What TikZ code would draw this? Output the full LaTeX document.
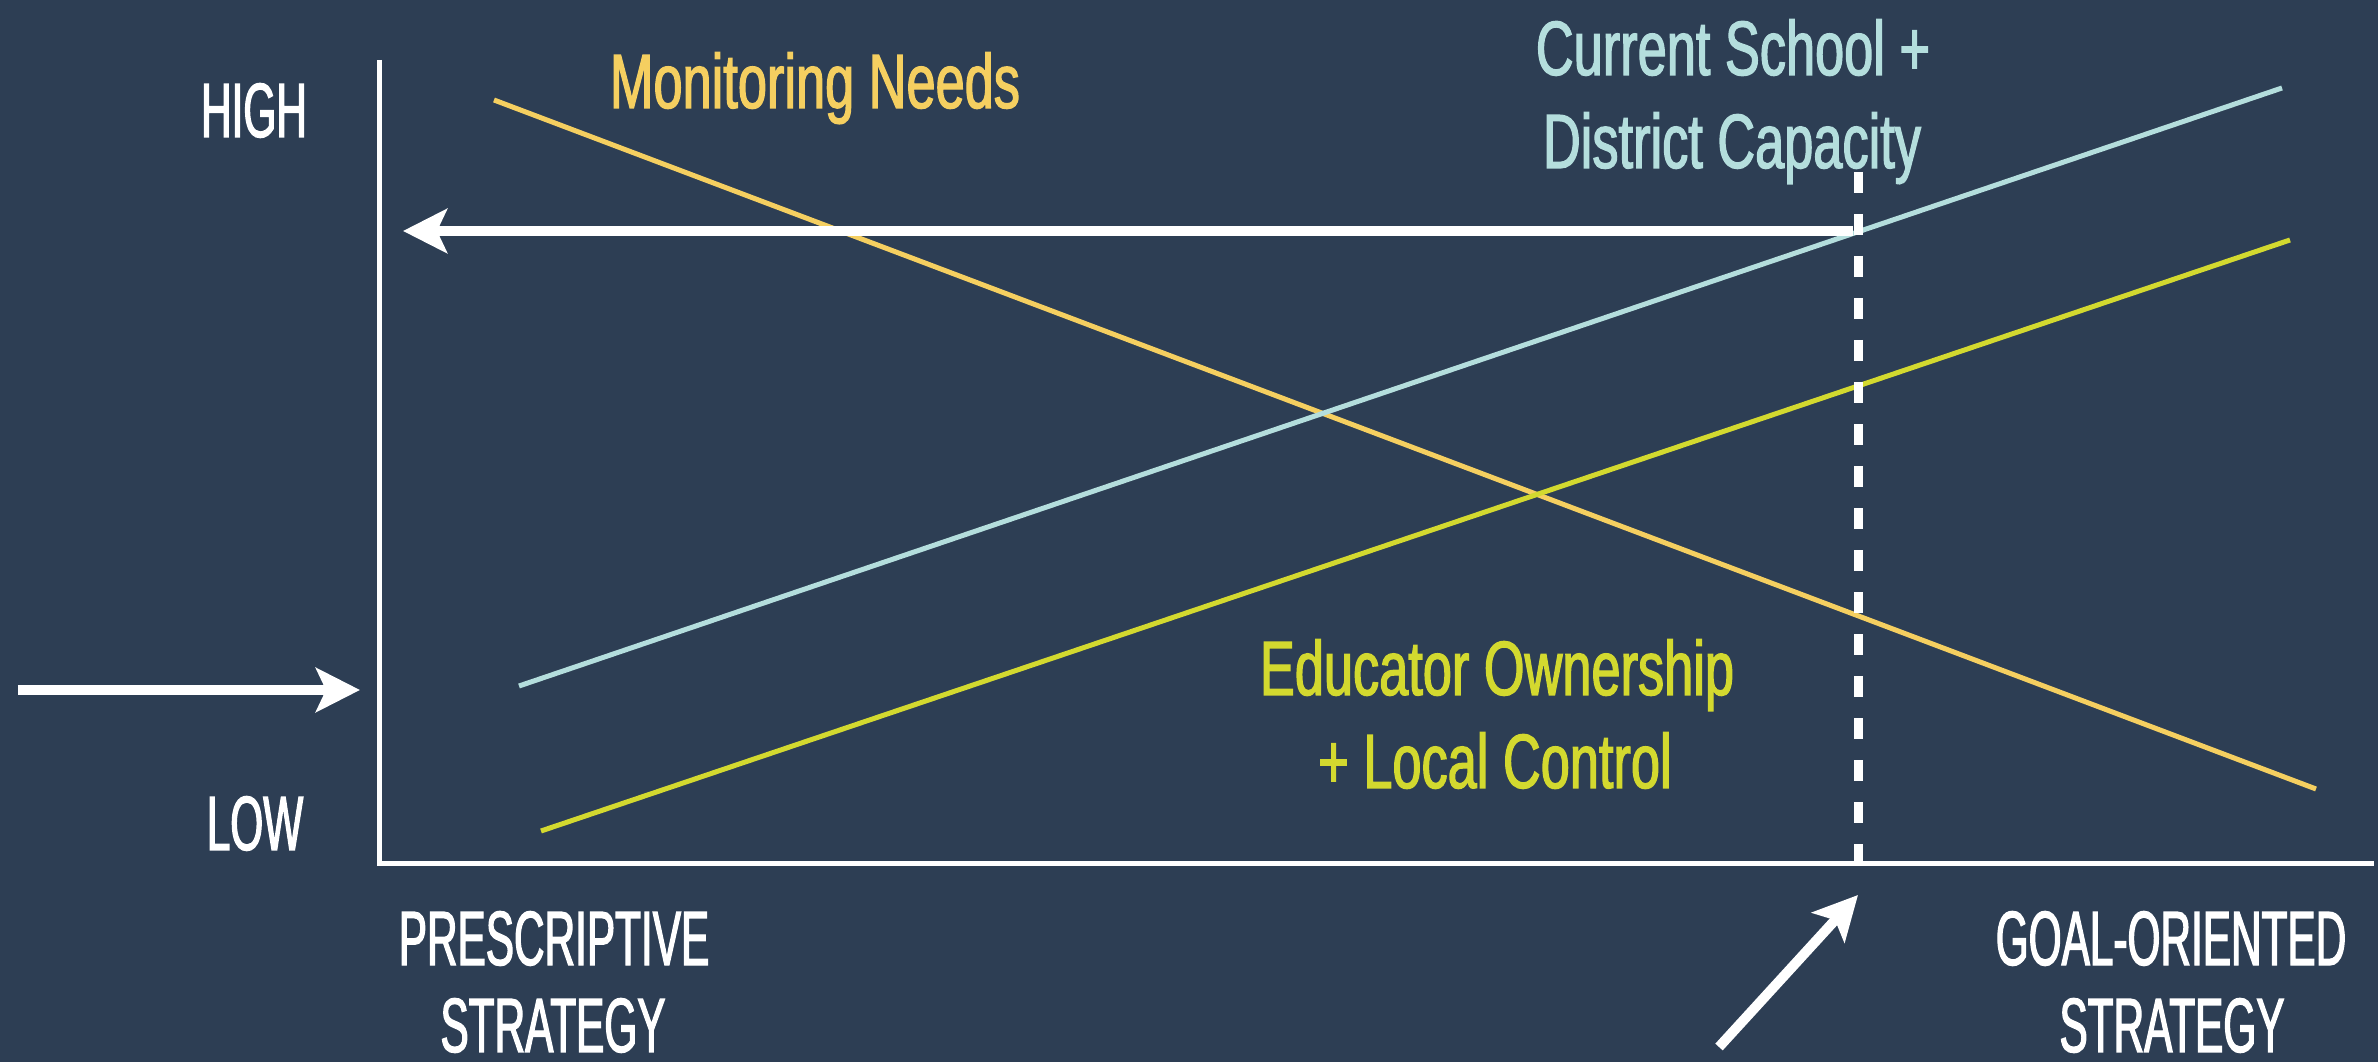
\documentclass[tikz,border=0pt]{standalone}
\usepackage{fontspec}
\setmainfont[FakeStretch=0.68, FakeBold=1.6]{Liberation Sans}
\newfontfamily\axisfont[FakeStretch=0.55, FakeBold=1.6]{Liberation Sans}
\usepackage{tikz}
\usetikzlibrary{arrows.meta,positioning}
\definecolor{slate}{HTML}{2D3E54}
\definecolor{monitor}{HTML}{F5CF60}
\definecolor{capacity}{HTML}{B4DEDD}
\definecolor{ownership}{HTML}{D3D92F}

\begin{document}
\begin{tikzpicture}[
font=\fontsize{21.9}{26}\selectfont,
axislabel/.style={font=\axisfont\fontsize{21.9}{26}\selectfont, text=white, anchor=base, inner sep=0pt, text depth=0pt},
linelabel/.style={anchor=base, inner sep=0pt},
trend/.style={line width=0.05cm},
bigarrow/.style={white, line width=0.1cm, -{Stealth[length=0.44cm, width=0.44cm, inset=0.1cm]}}
]
    % Background
    \fill[slate] (0,0) rectangle (23.78,10.62);
    \useasboundingbox (0,0) rectangle (23.78,10.62);

    % Draw axes
    \draw[white, line width=0.05cm] (3.79,10.02) coordinate (yaxis)
        |- (23.74,1.98) coordinate (xaxis);
    \coordinate (origin) at (3.79,1.98);

    \draw
    (4.94,9.62) coordinate (M1)
    (23.16,2.73) coordinate (M2)
    (5.19,3.76) coordinate (C1)
    (22.82,9.74) coordinate (C2)
    (5.41,2.31) coordinate (E1)
    (22.90,8.22) coordinate (E2)
    (18.58,8.90) coordinate (D1)
    (18.58,1.98) coordinate (D2)
    (18.53,8.31) coordinate (H1)
    (4.03,8.31) coordinate (H2)
    (0.18,3.72) coordinate (L1)
    (3.60,3.72) coordinate (L2)
    (17.19,0.15) coordinate (G1)
    (18.58,1.67) coordinate (G2);

    % Axis labels
    \node[axislabel] (high) at (2.54,9.25) {HIGH};
    \node[axislabel] (low) at (2.55,2.12) {LOW};
    \node[axislabel] (presc) at (5.54,0.97) {PRESCRIPTIVE};
    \node[axislabel] (presc2) at (5.53,0.10) {STRATEGY};
    \node[axislabel] (goal) at (21.71,0.97) {GOAL-ORIENTED};
    \node[axislabel] (goal2) at (21.72,0.10) {STRATEGY};

    % Trend lines
    \draw[trend, monitor] (M1) -- (M2);
    \draw[trend, capacity] (C1) -- (C2);
    \draw[trend, ownership] (E1) -- (E2);

    \node[linelabel, text=monitor] (monitorlbl) at (8.15,9.54) {Monitoring Needs};
    \node[linelabel, text=capacity] (caplbl) at (17.33,9.87) {Current School +};
    \node[linelabel, text=capacity] (caplbl2) at (17.32,8.94) {District Capacity};
    \node[linelabel, text=ownership] (ownlbl) at (14.97,3.67) {Educator Ownership};
    \node[linelabel, text=ownership] (ownlbl2) at (14.95,2.74) {+ Local Control};

    % Current position
    \draw[white, line width=0.09cm, dash pattern=on 0.21cm off 0.21cm] (D1) -- (D2);
    \draw[bigarrow] (H1) -- (H2);
    \draw[bigarrow] (L1) -- (L2);
    \draw[bigarrow] (G1) -- (G2);

\end{tikzpicture}
\end{document}
